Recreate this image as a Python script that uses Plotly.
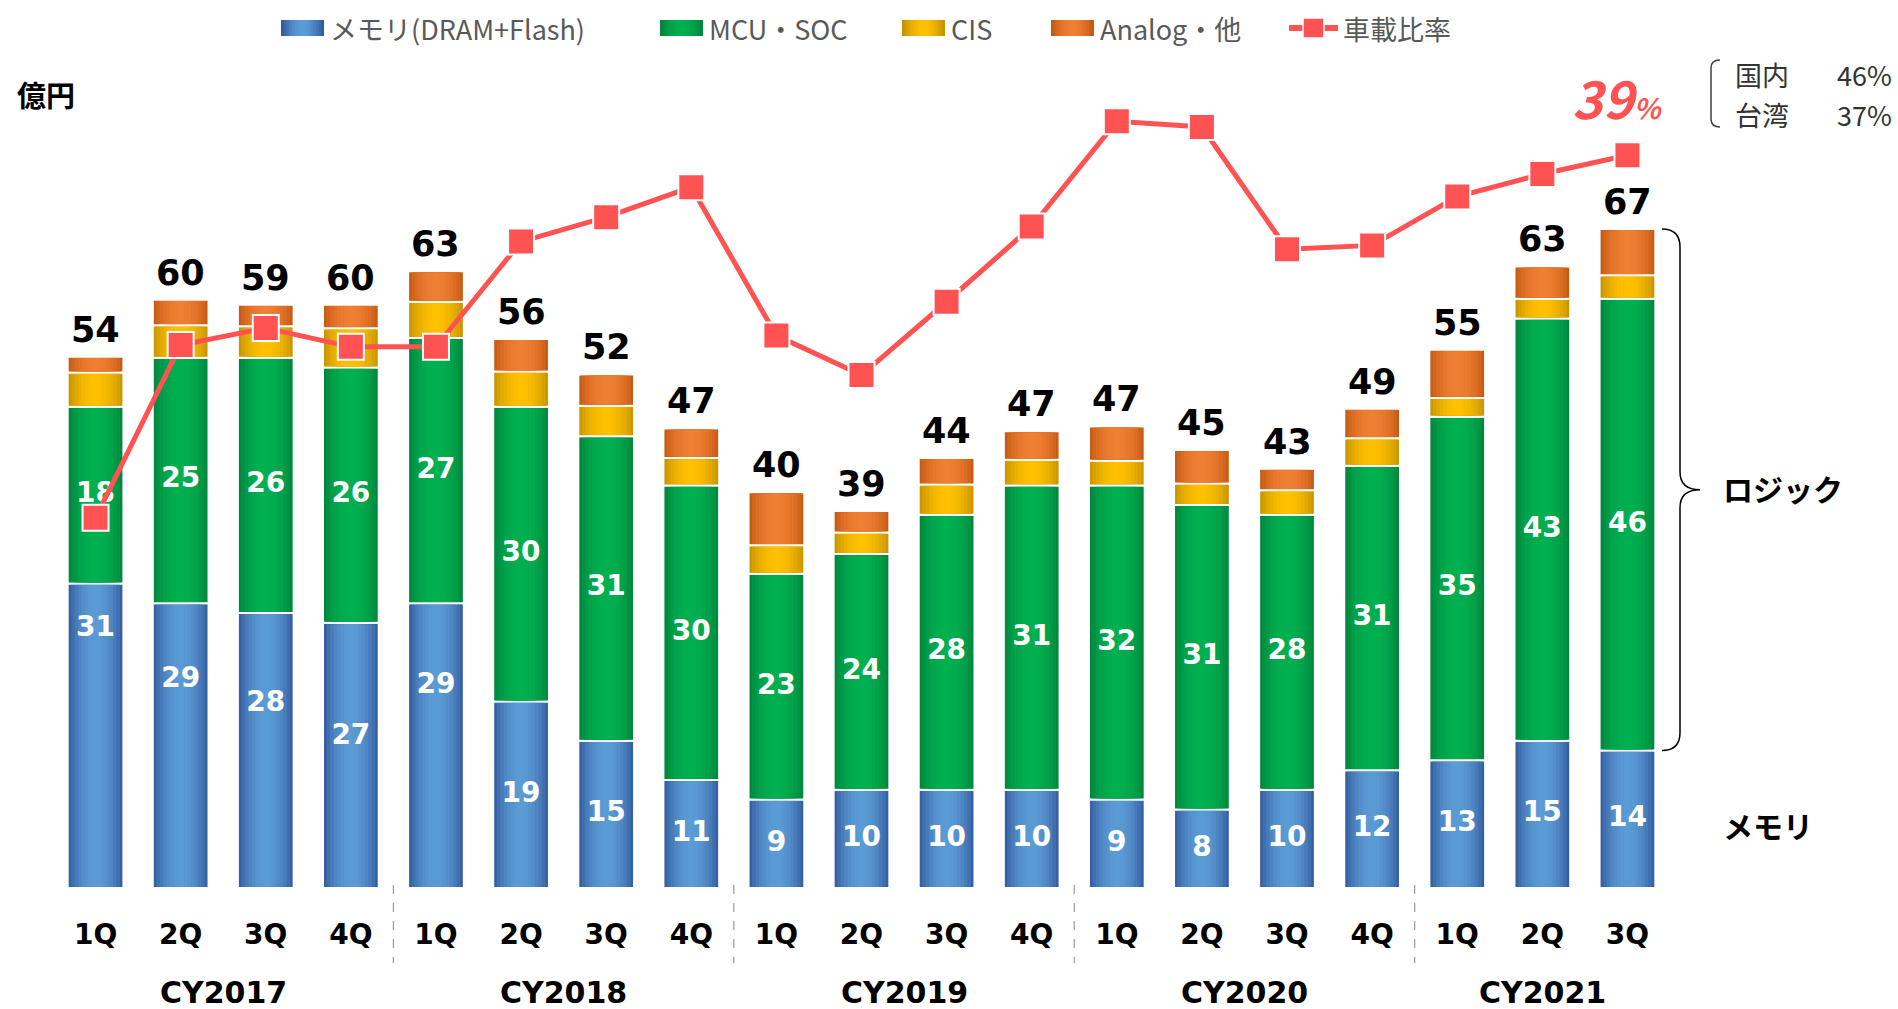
import math
import plotly.graph_objects as go

# DATA
quarters = ["1Q", "2Q", "3Q", "4Q", "1Q", "2Q", "3Q", "4Q", "1Q", "2Q",
            "3Q", "4Q", "1Q", "2Q", "3Q", "4Q", "1Q", "2Q", "3Q"]
year_of = ["CY2017"] * 4 + ["CY2018"] * 4 + ["CY2019"] * 4 + ["CY2020"] * 4 + ["CY2021"] * 3
memory = [31, 29, 28, 27, 29, 19, 15, 11, 9, 10, 10, 10, 9, 8, 10, 12, 13, 15, 14]
mcu = [18, 25, 26, 26, 27, 30, 31, 30, 23, 24, 28, 31, 32, 31, 28, 31, 35, 43, 46]
cis = [3.5, 3.3, 3.2, 4.0, 3.7, 3.6, 3.1, 2.8, 2.9, 2.2, 3.1, 2.6, 2.5, 2.2, 2.5, 2.8, 1.9, 2.0, 2.4]
analog = [1.6, 2.6, 2.2, 2.4, 3.1, 3.3, 3.2, 3.0, 5.4, 2.2, 2.7, 2.9, 3.5, 3.4, 2.2, 3.0, 4.9, 3.3, 4.7]
totals = [54, 60, 59, 60, 63, 56, 52, 47, 40, 39, 44, 47, 47, 45, 43, 49, 55, 63, 67]
auto_ratio = [19.7, 28.9, 29.8, 28.8, 28.8, 34.4, 35.7, 37.3, 29.4, 27.3,
              31.2, 35.2, 40.8, 40.5, 34.0, 34.2, 36.8, 38.0, 39.0]
latest_ratio = "39"
region_names = ["国内", "台湾"]
region_ratio = ["46%", "37%"]

# where the memory label sits inside its segment (fraction of the segment, from bottom)
mem_label_pos = [0.85, 0.73, 0.67, 0.57, 0.71] + [0.5] * 14

# LAYOUT CONSTANTS (pixels)
FW, FH = 1898, 1009
L, R, T, B = 53, 228, 60, 121
W, H = FW - L - R, FH - T - B
PX_PER_UNIT = 9.82
PX_PER_PCT = 18.79
BAR_W = 0.655
CJK = "Noto Sans CJK JP"
RED = "#ff5353"


def fx(px):
    return (px - L) / W


def fy(py):
    return (FH - B - py) / H


def mix(c1, c2, t):
    a = [int(c1[i:i + 2], 16) for i in (1, 3, 5)]
    b = [int(c2[i:i + 2], 16) for i in (1, 3, 5)]
    return "#" + "".join(f"{round(x + (y - x) * t):02x}" for x, y in zip(a, b))


cats = [f"{y}-{q}" for y, q in zip(year_of, quarters)]

series = [
    ("メモリ(DRAM+Flash)", memory, "#2f5597", "#5b9bd5"),
    ("MCU・SOC", mcu, "#00813c", "#00b050"),
    ("CIS", cis, "#bf8f00", "#ffc000"),
    ("Analog・他", analog, "#c2560f", "#ee7f33"),
]

fig = go.Figure()

# gradient bars: several overlaid bars of decreasing width
N = 8
cum = [0.0] * len(cats)
for name, vals, edge, center in series:
    for k in range(N):
        u = (k + 0.5) / N
        col = mix(edge, center, math.sin(u * math.pi / 2) ** 0.8)
        w = BAR_W * (1 - k / N)
        d = 0 if k == 0 else 0.13
        fig.add_trace(go.Bar(
            x=cats, y=[v - 2 * d for v in vals], base=[c + d for c in cum],
            width=w, marker=dict(color=col, line=dict(color="white", width=2 if k == 0 else 0)),
            showlegend=False, hoverinfo="skip" if k else "y", name=name,
        ))
    cum = [c + v for c, v in zip(cum, vals)]

# segment labels
label_font = dict(family="DejaVu Sans", size=28, color="white", weight="bold")
fig.add_trace(go.Scatter(x=cats, y=[m * p for m, p in zip(memory, mem_label_pos)], mode="text",
                         text=[str(v) for v in memory], textfont=label_font,
                         showlegend=False, hoverinfo="skip"))
fig.add_trace(go.Scatter(x=cats, y=[m + c / 2 for m, c in zip(memory, mcu)], mode="text",
                         text=[str(v) for v in mcu], textfont=label_font,
                         showlegend=False, hoverinfo="skip"))

# ratio line
fig.add_trace(go.Scatter(
    x=cats, y=auto_ratio, yaxis="y2", name="車載比率", mode="lines+markers",
    line=dict(color=RED, width=5), showlegend=False,
    marker=dict(symbol="square", size=26, color=RED, line=dict(color="white", width=2)),
))

annotations = []
shapes = []


def note(px, py, text, size, color="black", family=CJK, xanchor="center", align="center"):
    annotations.append(dict(x=fx(px), y=fy(py), xref="paper", yref="paper", text=text,
                            xanchor=xanchor, yanchor="middle", showarrow=False, align=align,
                            borderpad=0, font=dict(family=family, size=size, color=color)))


# legend (drawn by hand so the swatches match the wide gradient boxes)
legend_x = [281, 660, 902, 1051]
for (name, vals, edge, center), x0 in zip(series, legend_x):
    for k in range(8):
        u = (k + 0.5) / 8
        inset = 21.5 * k / 8
        shapes.append(dict(type="rect", xref="paper", yref="paper",
                           x0=fx(x0 + inset), x1=fx(x0 + 43 - inset), y0=fy(36), y1=fy(20),
                           fillcolor=mix(edge, center, math.sin(u * math.pi / 2)), line_width=0))
    note(x0 + 48, 28, name, 27, "#595959", xanchor="left")
shapes.append(dict(type="line", xref="paper", yref="paper", x0=fx(1289), x1=fx(1338),
                   y0=fy(28), y1=fy(28), line=dict(color=RED, width=6)))
shapes.append(dict(type="rect", xref="paper", yref="paper", x0=fx(1303), x1=fx(1324),
                   y0=fy(38), y1=fy(18), fillcolor=RED, line=dict(color="white", width=1.5)))
note(1342, 28, "車載比率", 27, "#595959", xanchor="left")

# totals
for c, top, t in zip(cats, cum, totals):
    annotations.append(dict(x=c, y=top, text=f"<b>{t}</b>", showarrow=False, yanchor="bottom",
                            yshift=5, font=dict(family="DejaVu Sans", size=35, color="black")))

# year labels and separators
years = list(dict.fromkeys(year_of))
for y in years:
    idx = [i for i, v in enumerate(year_of) if v == y]
    annotations.append(dict(x=sum(idx) / len(idx), xref="x", y=fy(993), yref="paper", text=f"<b>{y}</b>",
                            showarrow=False, yanchor="middle",
                            font=dict(family="DejaVu Sans", size=30, color="black")))
for i in range(1, len(year_of)):
    if year_of[i] != year_of[i - 1]:
        shapes.append(dict(type="line", xref="x", x0=i - 0.5, x1=i - 0.5, yref="paper",
                           y0=fy(885), y1=fy(963), line=dict(color="#9a9a9a", width=1.2, dash="dash")))

# unit
note(46, 94, "<b>億円</b>", 29)

# latest ratio callout
note(1617, 97, f"<b><i>{latest_ratio}</i></b><b><i><span style='font-size:28px'>%</span></i></b>", 52, RED)
for j, (nm, rt) in enumerate(zip(region_names, region_ratio)):
    note(1734, 75 + 40 * j, nm, 27, "#333333", xanchor="left")
    note(1893, 75 + 40 * j, rt, 27, "#333333", xanchor="right")
shapes.append(dict(type="path", xref="paper", yref="paper",
                   path=f"M {fx(1720)},{fy(60)} Q {fx(1711)},{fy(60)} {fx(1711)},{fy(68)} "
                        f"L {fx(1711)},{fy(119)} Q {fx(1711)},{fy(127)} {fx(1720)},{fy(127)}",
                   line=dict(color="#404040", width=1.5)))

# brace on the last bar: logic vs memory
last = len(cats) - 1
ytop = cum[last] * PX_PER_UNIT / H
ybot = memory[last] * PX_PER_UNIT / H
ymid = (ytop + ybot) / 2
r = 18 / H
xa, xb, xc = fx(1662), fx(1680), fx(1700)
shapes.append(dict(
    type="path", xref="paper", yref="paper",
    path=(f"M {xa},{ytop} Q {xb},{ytop} {xb},{ytop - r} L {xb},{ymid + r} Q {xb},{ymid} {xc},{ymid} "
          f"Q {xb},{ymid} {xb},{ymid - r} L {xb},{ybot + r} Q {xb},{ybot} {xa},{ybot}"),
    line=dict(color="black", width=1.5)))
note(1722, 488, "<b>ロジック</b>", 30, xanchor="left")
note(1722, 825, "<b>メモリ</b>", 30, xanchor="left")

fig.update_layout(
    width=FW, height=FH,
    margin=dict(l=L, r=R, t=T, b=B),
    paper_bgcolor="white", plot_bgcolor="white",
    barmode="overlay",
    showlegend=False,
    xaxis=dict(type="category", categoryorder="array", categoryarray=cats, range=[-0.5, len(cats) - 0.5],
               tickvals=cats, ticktext=quarters, showgrid=False, zeroline=False, showline=False,
               ticks="outside", ticklen=21, tickcolor="rgba(0,0,0,0)",
               tickfont=dict(family="DejaVu Sans", size=28, color="black", weight="bold")),
    yaxis=dict(range=[0, H / PX_PER_UNIT], visible=False),
    yaxis2=dict(range=[0, H / PX_PER_PCT], overlaying="y", visible=False),
    annotations=annotations,
    shapes=shapes,
)

fig.write_html("out.html", config={"displayModeBar": False},
               post_script="document.body.style.margin = '0px';")
